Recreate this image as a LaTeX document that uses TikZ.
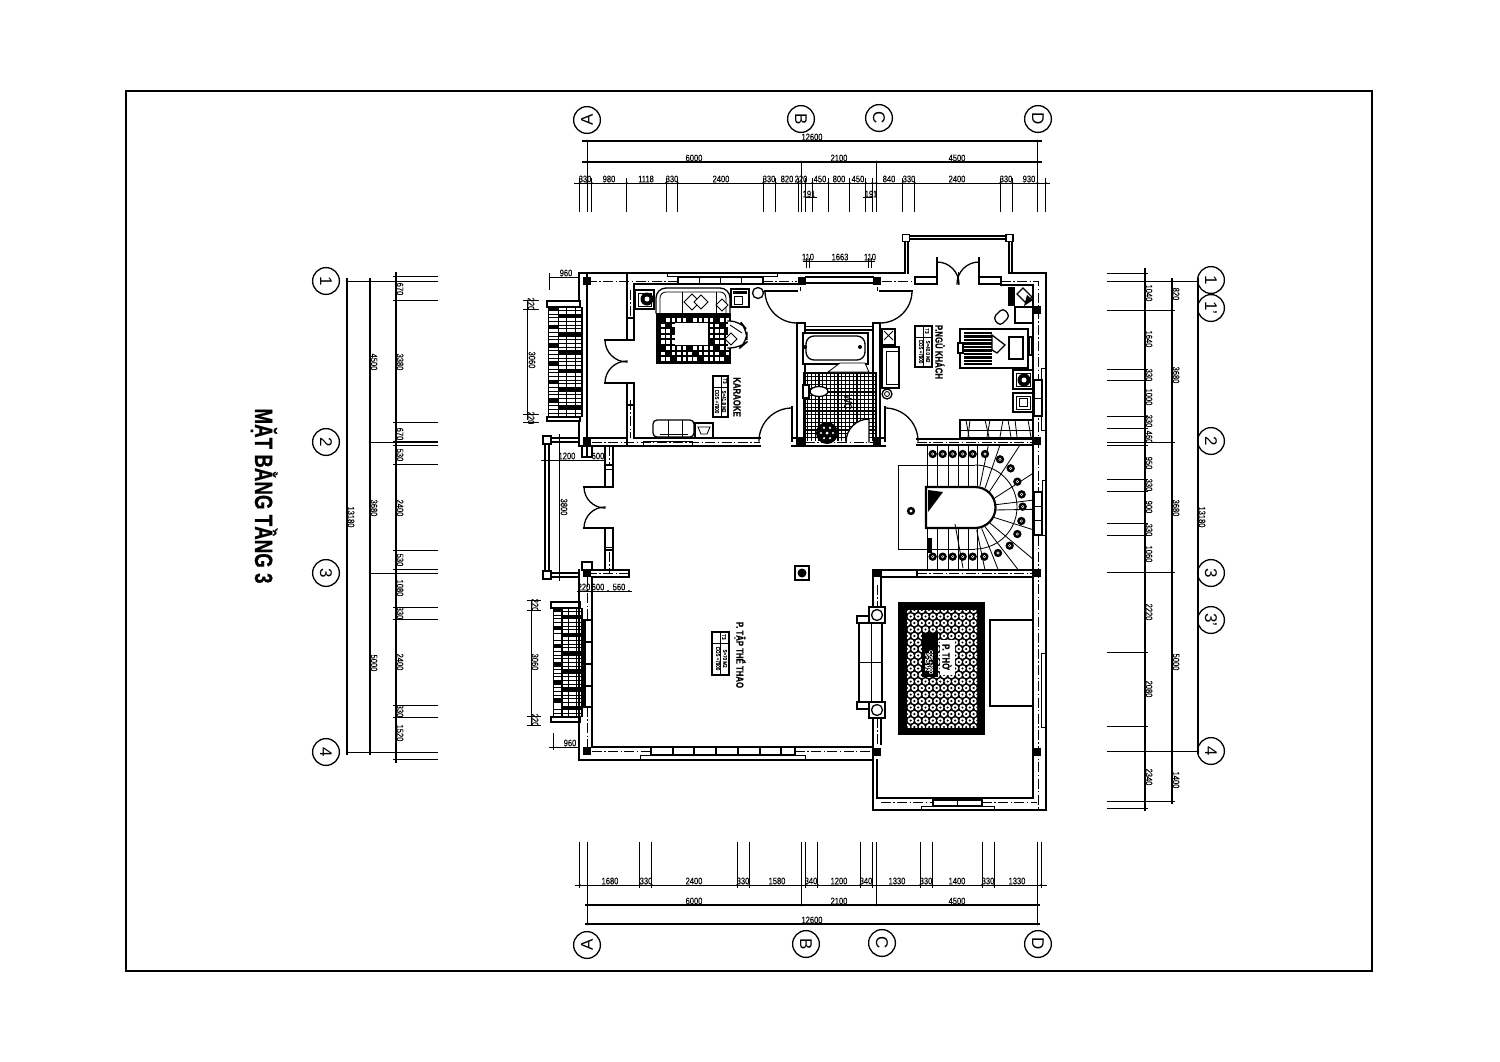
\documentclass[tikz,border=0pt]{standalone}
\usepackage{fontspec}
\setmainfont{Liberation Sans}
\newfontfamily\dimf[FakeStretch=0.8,FakeBold=0.25]{Liberation Sans}
\newfontfamily\titf[FakeStretch=0.75,FakeBold=0.5]{Liberation Sans}
\tikzset{
 wl/.style={line width=.65pt,line cap=rect},
 th/.style={line width=.42pt},
 cl/.style={line width=.42pt,dash pattern=on 5pt off 1.2pt on .7pt off 1.2pt},
 dl/.style={line width=.5pt},
 dk/.style={line width=.65pt},
 dm/.style={font=\dimf\fontsize{4.7}{5}\selectfont,inner sep=0pt},
 dmr/.style={dm,rotate=-90},
 rm/.style={font=\titf\bfseries\fontsize{5.2}{5.5}\selectfont,inner sep=0pt,rotate=-90},
 tg/.style={font=\dimf\fontsize{2.8}{3}\selectfont,inner sep=0pt,rotate=-90},
 bub/.style={draw,circle,line width=.65pt,minimum size=13.4pt,inner sep=0pt,rotate=-90,font=\fontsize{8.5}{8.5}\selectfont},
}
\newcommand{\bench}[4]{%
 \fill (#1,#2) rectangle (#3,#4);
 \foreach \c/\ca/\cb/\k in {0/.04/.28/3,1/.32/.50/2,2/.54/.76/4,3/.80/.94/1}{
  \foreach \i in {0,...,29}{
   \pgfmathtruncatemacro\m{mod(\i*\k+\c,5)}
   \ifnum\m=0\relax\else
    \fill[white] ({#1+(#3-#1)*\ca},{#2+(\i+.1)*(#4-#2)/30}) rectangle ({#1+(#3-#1)*\cb},{#2+(\i+.85)*(#4-#2)/30});
   \fi
  }
 }
}
\newcommand{\diam}[3]{\draw[th,fill=white] (#1-#3,#2) -- (#1,#2-#3) -- (#1+#3,#2) -- (#1,#2+#3) -- cycle;}
\newcommand{\tagbox}[7]{% x0 y0 x1 y1 t1 t2 t3
 \draw[wl] (#1,#2) rectangle (#3,#4);
 \draw[th] (#1,#2+11) -- (#3,#2+11) (#1+8,#2) -- (#1+8,#4);
 \node[tg] at (#1+12,#2+5) {#5};
 \node[tg] at (#3-11,{(#2+#4)/2+5}) {#6};
 \node[tg] at (#3-4,{(#2+#4)/2+5}) {#7};
}
\begin{document}
\begin{tikzpicture}[x=.5pt,y=-.5pt]
\useasboundingbox (0,0) rectangle (1500,1061);
\fill[white] (0,0) rectangle (1500,1061);
\draw[line width=.7pt] (126,91) rectangle (1372,971);

% ---- title
\node[rotate=-90,inner sep=0pt,font=\titf\bfseries\fontsize{12.5}{13}\selectfont] (title) at (264,496) {MẶT BẰNG TẦNG 3};

% ---- bubbles
\foreach \n/\x/\y/\t in {tb/801/119/B,tc/879/118/C,td/1038/119/D,bb/806/944/B,bc/882/943/C,bd/1038/944/D,
 l1/326/281/1,l2/326/442/2,l3/326/573/3,l4/326/752/4,
 r1/1211/280/1,r1p/1211/308/1',r2/1211/441/2,r3/1211/573/3,r3p/1211/620/3',r4/1211/751/4}
 \node[bub] (\n) at (\x,\y) {\t};
\node[bub,rotate=180] (ta) at (587,120) {A};
\node[bub,rotate=180] (ba) at (587,945) {A};

% ---- top dimensions
\draw[dk] (582,141) -- (1042,141);
\draw[dk] (582,162) -- (1042,162);
\draw[dl] (574,183) -- (1050,183);
\draw[dl] (805,197) -- (817,197) (863,197) -- (872,197);
\foreach \x in {587,1037.5} {\draw[dl] (\x,141) -- (\x,212); \fill (\x,141) circle (1.3);}
\foreach \x in {587,801,876.5,1037.5} \fill (\x,162) circle (1.3);
\foreach \x in {801,876.5} \draw[dl] (\x,162) -- (\x,212);
\foreach \x in {579.7,587,591.7,626.7,666,677.7,763.3,775.7,798,805.3,812.3,828.3,849.7,865.7,872.3,876.3,902.7,914.7,1000.3,1012.3,1037.3,1045.7}
 {\draw[dl] (\x,178) -- (\x,212); \fill (\x,183) circle (1.2);}
\foreach \x/\t in {812/12600} \node[dm] at (\x,137) {\t};
\foreach \x/\t in {694/6000,839/2100,957/4500} \node[dm] at (\x,158) {\t};
\foreach \x/\t in {585/330,609/980,646/1118,672/330,721/2400,769/330,787/820,801/220,820/450,839/800,858/450,889/840,909/330,957/2400,1006/330,1029/930}
 \node[dm] at (\x,179) {\t};
\node[dm] at (809,194) {191};
\node[dm] at (871,194) {191};

% ---- bottom dimensions
\draw[dl] (575,885) -- (1047,885);
\draw[dk] (585,905) -- (1040,905);
\draw[dk] (585,924) -- (1040,924);
\foreach \x in {587,1037.5} {\draw[dl] (\x,842) -- (\x,924); \fill (\x,924) circle (1.3);}
\foreach \x in {801.5,876.3} \draw[dl] (\x,842) -- (\x,905);
\foreach \x in {587,801.5,876.3,1037.5} \fill (\x,905) circle (1.3);
\foreach \x in {579.7,639.7,651.7,737.3,749.3,805.7,817.7,860.3,872.3,920.3,932.3,982,994,1041.3}
 {\draw[dl] (\x,842) -- (\x,888); \fill (\x,885) circle (1.2);}
\foreach \x/\t in {610/1680,646/330,694/2400,743/330,777/1580,811/340,839/1200,866/340,897/1330,926/330,957/1400,988/330,1017/1330}
 \node[dm] at (\x,881) {\t};
\foreach \x/\t in {694/6000,839/2100,957/4500} \node[dm] at (\x,901) {\t};
\node[dm] at (812,920) {12600};

% ---- left dimensions
\draw[dk] (347,278) -- (347,755);
\draw[dk] (370,278) -- (370,755);
\draw[dk] (396,272) -- (396,763);
\foreach \y in {281,752} {\draw[dl] (347,\y) -- (438,\y); \fill (347,\y) circle (1.3); \fill (370,\y) circle (1.3);}
\foreach \y in {442,573} {\draw[dl] (370,\y) -- (438,\y); \fill (370,\y) circle (1.3);}
\foreach \y in {276.7,281.3,300.7,422,441.7,445.3,464.3,550,569.3,573.3,607.7,619.7,705.3,717.3,752,759.7}
 {\draw[dl] (393,\y) -- (438,\y); \fill (396,\y) circle (1.2);}
\foreach \y/\t in {289/670,362/3380,434/670,455/530,508/2400,560/530,588/1080,613/330,662/2400,711/330,733/1520}
 \node[dmr] at (400,\y) {\t};
\foreach \y/\t in {362/4500,508/3680,663/5000} \node[dmr] at (374,\y) {\t};
\node[dmr] at (351,517) {13180};

% ---- right dimensions
\draw[dk] (1145,268) -- (1145,811);
\draw[dk] (1172,278) -- (1172,804);
\draw[dk] (1198,278) -- (1198,754);
\foreach \y in {281,751} {\draw[dl] (1107,\y) -- (1198,\y); \fill (1198,\y) circle (1.3); \fill (1172,\y) circle (1.3);}
\foreach \y in {310,442,572,801} {\draw[dl] (1107,\y) -- (1175,\y); \fill (1172,\y) circle (1.3);}
\foreach \y in {273,281,310,369,380,416,428,442,445,479,491,523,535,572,652,726,751,801,808}
 {\draw[dl] (1107,\y) -- (1148,\y); \fill (1145,\y) circle (1.2);}
\foreach \y/\t in {293/1040,339/1640,375/330,397/1000,421/330,437/460,463/950,485/330,507/900,530/330,554/1060,612/2220,689/2080,777/2340}
 \node[dmr] at (1149,\y) {\t};
\foreach \y/\t in {294/820,375/3680,508/3680,662/5000,780/1400} \node[dmr] at (1176,\y) {\t};
\node[dmr] at (1202,517) {13180};

% ---- small dims around plan
\draw[dl] (549,290) -- (549,273) (549,277) -- (579,277);
\node[dm] at (566,273) {960};
\draw[dl] (527,301) -- (527,420);
\foreach \y in {300,309,414,422} {\draw[dl] (523,\y) -- (539,\y);}
\node[dmr] at (532,360) {3060};
\node[dmr] at (531,304) {220};
\node[dmr] at (531,418) {220};
\draw[dl] (531,600) -- (531,725);
\foreach \y in {600,610,716,725} {\draw[dl] (527,\y) -- (541,\y);}
\node[dmr] at (535,662) {3060};
\node[dmr] at (535,605) {220};
\node[dmr] at (535,720) {220};
\draw[dl] (553,733) -- (553,750) (549,747) -- (580,747);
\node[dm] at (570,743) {960};
\draw[dl] (541,460) -- (606,460);
\draw[dl] (559,434) -- (559,581);
\node[dm] at (567,456) {1200};
\node[dm] at (598,456) {600};
\node[dmr] at (564,507) {3800};
\draw[dl] (577,591) -- (632,591);
\foreach \x in {579,587,608,629} \fill (\x,591) circle (1.1);
\foreach \x/\t in {584/220,598/600,619/560} \node[dm] at (\x,587) {\t};
\draw[dl] (803,261) -- (875,261);
\foreach \x in {806,809,868,871} \draw[dl] (\x,258) -- (\x,268);
\foreach \x/\t in {808/110,840/1663,870/110} \node[dm] at (\x,257) {\t};

% ---- benches (balcony balustrades)
\bench{548}{307}{583}{417}
\draw[wl,fill=white] (547,301) rectangle (580,307);
\draw[wl,fill=white] (547,417) rectangle (580,421);
\bench{553}{608}{583}{717}
\draw[wl,fill=white] (551,602) rectangle (580,608);
\draw[wl,fill=white] (551,717) rectangle (580,722);

% ---- KARAOKE room walls
\draw[wl] (579,273) -- (873,273) (579,273) -- (579,301) (587,273) -- (587,446) (579,421) -- (579,446) (579,446) -- (760,446);
\draw[wl] (587,438) -- (627,438) (634,438) -- (760,438);
\draw[wl] (627,273) -- (627,340) (634,284) -- (634,340) (627,383) -- (627,446) (634,383) -- (634,438);
\draw[wl] (634,284) -- (678,284) (763,284) -- (797,284);
\draw[wl] (678,277) rectangle (763,284);
\foreach \x in {699,720,741} \draw[th] (\x,277) -- (\x,284);
\draw[th] (667,273) rectangle (777,276);
\draw[cl] (587,281) -- (678,281) (763,281) -- (797,281) (592,442) -- (760,442) (630.5,290) -- (630.5,318) (630.5,400) -- (630.5,438);
\draw[wl] (627,318) rectangle (634,340) (627,383) rectangle (634,405);
\draw[th] (643,441) rectangle (692,446);
% karaoke door
\draw[wl] (605,340) -- (627,340) (605,383) -- (627,383);
\draw[wl] (605,340) arc[start angle=180,end angle=90,radius=22];
\draw[wl] (605,383) arc[start angle=180,end angle=270,radius=22];
% karaoke furniture
\draw[wl] (635,290) rectangle (654,309);
\draw[th] (638,293) rectangle (651,306);
\fill (647,299) circle (6.5); \fill[white] (647,299) circle (2.5);
\draw[wl,rounded corners=5pt] (656,313) -- (656,288) -- (730,288) -- (730,313);
\draw[th,rounded corners=3pt] (660,313) -- (660,292) -- (726,292) -- (726,313);
\draw[th] (682,292) -- (682,313) (716,292) -- (716,313);
\diam{692}{302}{8}\diam{701}{302}{7}\diam{722}{305}{6}
\draw[wl] (731,289) rectangle (749,307);
\fill (733,291) rectangle (747,294); \draw[th] (734,296) rectangle (742,304);
\draw[wl] (758,293) circle (5.5);
\draw[th] (763,291) -- (770,291);
% rug
\fill (656,313) rectangle (731,364);
\foreach \i in {0,...,12}{\foreach \j in {0,...,7}{
 \pgfmathtruncatemacro\m{mod(\i*2+\j*3,5)}
 \ifnum\m=0\relax\else\fill[white] ({661+\i*5.4},{318+\j*5.6}) rectangle ++(3.6,3.6);\fi}}
\fill[white] (675,323) rectangle (708,345);
\draw[wl,fill=white,rounded corners=5pt] (728,321) -- (740,321) -- (747,330) -- (747,342) -- (740,348) -- (728,348);
\diam{731}{339}{6}\draw[th] (730,325) -- (742,333);
\draw[wl,rounded corners=2pt] (653,437) -- (653,420) -- (694,420) -- (694,437) -- cycle;
\draw[th] (668,420) -- (668,437) (682,420) -- (682,437) (660,434) -- (688,434);
\draw[wl] (695,423) rectangle (713,438);
\draw[th] (698,427) -- (710,427) -- (707,434) -- (701,434) -- cycle;
\tagbox{713}{376}{728}{417}{T3}{COS +7900}{S=41.8 M2}
\node[rm] at (737,397) {KARAOKE};

% ---- opening between B-C and large arcs
\draw[wl] (806,277) -- (873,277) (806,283) -- (873,283);
\draw[wl] (765,291) -- (797,291) (880,291) -- (912,291);
\draw[th] (800,287) -- (800,291) (877,287) -- (877,291);
\draw[wl] (765,291) arc[start angle=180,end angle=90,radius=32];
\draw[wl] (912,291) arc[start angle=0,end angle=90,radius=32];
\draw[wl] (873,273) -- (905,273);
\draw[cl] (882,281) -- (915,281);

% ---- guest room balcony
\draw[wl] (905,238) -- (905,273) (908,238) -- (908,273) (1009,238) -- (1009,273) (1012,238) -- (1012,273);
\draw[wl] (906,236) -- (1009,236) (906,239) -- (1009,239);
\draw[wl,fill=white] (902.5,234.5) rectangle (909.5,241.5);
\draw[wl,fill=white] (1006,234.5) rectangle (1013,241.5);
\draw[wl] (915,277) rectangle (937,284);
\draw[wl] (979,277) rectangle (1001,284);
\draw[wl] (937,258) -- (937,284) (979,258) -- (979,284);
\draw[wl] (937,262) arc[start angle=-90,end angle=0,radius=22];
\draw[wl] (979,262) arc[start angle=-90,end angle=-180,radius=22];
\draw[th] (958,272) -- (958,285);
\draw[wl] (1009,273) -- (1046,273) -- (1046,810);
\draw[wl] (1001,285) -- (1033,285) -- (1033,798);
\draw[cl] (1001,281) -- (1038,281) -- (1038,810);

% ---- bathroom
\foreach \x in {803.8,807.6,...,877} \draw[line width=.55pt] (\x,373) -- (\x,441);
\foreach \y in {373,376.8,...,441} \draw[line width=.55pt] (803,\y) -- (877,\y);
\draw[wl] (797,323) -- (797,446) (805,323) -- (805,438) (873,323) -- (873,438) (880,323) -- (880,446);
\draw[wl] (797,323) -- (805,323) (873,323) -- (880,323);
\draw[wl] (805,330) -- (873,330);
\draw[th] (805,326) -- (873,326);
\draw[wl,fill=white] (803,333) rectangle (868,364);
\draw[wl,rounded corners=4pt] (806,336) rectangle (865,360);
\fill (805,347) circle (2) (860,347) circle (2);
\draw[th,fill=white] (828,372) -- (840,363) -- (865,363) -- (869,372) -- cycle;
\draw[wl,fill=white] (803,385) rectangle (809,398);
\draw[wl,fill=white] (819,391.5) ellipse (9 and 5);
\fill (827,433) circle (11);
\foreach \a in {0,60,...,300} \fill[white] ({827+6*cos(\a)},{433+6*sin(\a)}) circle (1.2);
\fill[white] (827,433) circle (1.5);
\fill[white] (869,442) -- (846,442) arc[start angle=180,end angle=270,radius=23] -- cycle;
\draw[wl] (846,442) arc[start angle=180,end angle=270,radius=23] -- (869,442);
\node[rotate=-90,inner sep=0pt,font=\dimf\fontsize{5.5}{6}\selectfont] at (848,402) {WC};
\draw[wl] (792,407) -- (792,441) (885,407) -- (885,441);
\draw[wl] (792,408) arc[start angle=-90,end angle=-180,radius=33];
\draw[wl] (885,408) arc[start angle=-90,end angle=0,radius=33];
\draw[wl] (792,446) -- (885,446);
\draw[wl] (792,438) -- (797,438) (880,438) -- (885,438);
\draw[cl] (805,442) -- (873,442);
% sofa next to bathroom
\draw[wl] (882,329) rectangle (895,345);
\draw[th] (884,331) -- (893,340) (893,331) -- (884,340);
\draw[wl] (882,347) rectangle (899,388);
\draw[th] (886,351) rectangle (899,384);
\draw[wl] (887,394) circle (5);
\draw[th] (887,394) circle (2.5);

% ---- guest room
\tagbox{915}{326}{932}{367}{T3}{COS +7900}{S=40.0 M2}
\node[rm] at (940,352) {P.NGỦ KHÁCH};
\fill (1008,287) rectangle (1015,306);
\draw[wl] (1015,307) rectangle (1033,323);
\draw[wl,fill=white] (1017,294) -- (1023,288) -- (1032,297) -- (1026,303) -- cycle;
\fill (1027,295) -- (1033,300) -- (1024,306) -- cycle;
\draw[wl,fill=white,rounded corners=2pt] (993,318) -- (1003,308) -- (1010,316) -- (1000,326) -- cycle;
\draw[wl] (960,329) rectangle (1028,368);
\fill (964,332) rectangle (992,365);
\foreach \y in {334.5,338,...,364} \draw[white,line width=.4pt] (964,\y) -- (992,\y);
\draw[wl,fill=white] (992,335) -- (1005,345) -- (997,353) -- (992,350) -- cycle;
\draw[line width=1pt] (1009,337) rectangle (1023,359);
\draw[wl,fill=white] (958,343) rectangle (963,353);
\draw[wl] (1029,337) rectangle (1032,355);
\draw[wl] (1013,370) rectangle (1033,389);
\draw[th] (1016,373) rectangle (1030,386);
\fill (1024,380) circle (6.5); \fill[white] (1024,380) circle (2.5);
\draw[wl] (1013,393) rectangle (1033,412);
\draw[th] (1016,396) rectangle (1030,409);
\draw[th,fill=white] (1019,398) rectangle (1027,406);
\draw[th] (1041,368) -- (1041,430) -- (1045,430) -- (1045,368) -- cycle;
\draw[wl,fill=white] (1034,380) rectangle (1042,416);
\draw[th] (1034,398) -- (1042,398);
\draw[wl] (960,420) rectangle (1033,438);
\draw[th] (960,430) -- (1033,430);
\foreach \x/\d in {966/3,970/-2,985/4,990/-3,1003/-3,1008/3,1015/2,1028/3}
 \draw[th] (\x,420) -- ({\x+\d},437);

% ---- stairs
\draw[wl] (917,439) -- (1033,439) (917,445) -- (1033,445);
\draw[cl] (917,442) -- (1037,442);
\draw[wl] (881,570) rectangle (917,577);
\draw[wl] (917,570) -- (1033,570) (917,577) -- (1033,577);
\draw[cl] (917,573.5) -- (1033,573.5);
\draw[th] (898,465) rectangle (927,549);
\draw[th] (927,465) -- (975,465) (927,549) -- (975,549);
\draw[th] (975,465) arc[start angle=-90,end angle=90,radius=42];
\foreach \x in {927,937,948,958,968,977} \draw[th] (\x,445) -- (\x,487) (\x,528) -- (\x,570);
\foreach \ax/\ay/\bx/\by in {360/108/385/-15,375/115/420/-15,385/130/480/-15,395/150/522/68,400/165/522/150,400/180/522/178,395/200/522/240,385/215/522/330,375/230/475/360,365/235/415/360,350/240/375/360}
 \draw[th] ({860+\ax/3},{450+\ay/3}) -- ({860+\bx/3},{450+\by/3});
\draw[line width=1.1pt,fill=white] (926,487) -- (975,487) arc[start angle=-90,end angle=90,radius=20.5] -- (926,528) -- cycle;
\fill (928,490) -- (943,492) -- (928,512) -- cycle;
\fill (928,538) -- (932,538) -- (932,553) -- (928,553) -- cycle;
\draw[th] (955,524) -- (963,568);
\foreach \u/\v in {218/12,248/12,278/12,308/12,338/12,375/12,420/28,452/55,472/95,485/133,488/170,484/213,472/252,449/287,414/309,373/320,338/320,308/320,278/320,248/320,218/320}
 {\fill ({860+\u/3},{450+\v/3}) circle (4.2); \fill[white] ({860+\u/3},{450+\v/3}) circle (1.6); \fill ({860+\u/3},{450+\v/3}) circle (.7);}
\fill (911,511) circle (4.2); \fill[white] (911,511) circle (1.6);
\draw[wl,fill=white] (1034,492) rectangle (1042,535);
\draw[th] (1034,506) -- (1042,506) (1034,520) -- (1042,520);
\draw[th] (1042,480) rectangle (1045,535);

% ---- large room (sports room)
\draw[wl] (605,446) -- (605,487) (613,446) -- (613,487) (605,528) -- (605,570) (613,528) -- (613,570);
\draw[wl] (605,465) rectangle (613,487) (605,528) rectangle (613,550);
\draw[th] (605,469) -- (613,469) (605,547) -- (613,547);
\draw[cl] (609,446) -- (609,465) (609,552) -- (609,574);
\draw[wl] (584,487) -- (605,487) (584,528) -- (605,528);
\draw[wl] (584,487) arc[start angle=180,end angle=90,radius=21];
\draw[wl] (584,528) arc[start angle=180,end angle=270,radius=21];
% side balcony
\draw[wl] (545,443) -- (545,575) (549,443) -- (549,575);
\draw[wl] (551,438) -- (579,438) (551,442) -- (579,442) (551,573) -- (579,573) (551,577) -- (579,577);
\draw[wl,fill=white] (543,436) rectangle (551,444);
\draw[wl,fill=white] (543,571) rectangle (551,579);
\draw[wl,fill=white] (582,562) rectangle (592,570);
\draw[wl] (582,446) -- (582,457) (592,446) -- (592,457) (582,457) -- (592,457) (587,446) -- (587,457);
\draw[wl] (587,570) -- (629,570) -- (629,577) -- (592,577);
\draw[cl] (587,573.5) -- (629,573.5);
\draw[wl] (579,570) -- (579,760) (592,577) -- (592,747);
\draw[cl] (587,577) -- (587,620) (587,707) -- (587,747);
\draw[wl] (583,620) rectangle (592,707);
\fill (584,621) rectangle (586,706);
\foreach \y in {642,664,686} \draw[wl] (583,\y) -- (592,\y);
\draw[wl] (579,760) -- (873,760);
\draw[wl] (592,747) -- (873,747);
\draw[wl] (651,747) rectangle (795,755);
\foreach \x in {673,694,716,738,760,781} \draw[wl] (\x,747) -- (\x,755);
\draw[th] (640,755) rectangle (805,760);
\draw[cl] (592,751.5) -- (651,751.5) (795,751.5) -- (873,751.5);
\node[rm] at (740,655) {P. TẬP THỂ THAO};
\tagbox{712}{632}{729}{675}{T3}{COS +7900}{S=70 M2}
\fill[white] (795,563) rectangle (809,581);
\draw[line width=.8pt] (795,566) rectangle (809,580);
\fill (802,573) circle (4.5);

% ---- bay room (worship room)
\draw[wl] (873,570) -- (873,607) (881,577) -- (881,607);
\draw[cl] (877,585) -- (877,607);
\draw[wl] (873,718) -- (873,810) (881,718) -- (881,744) (877,760) -- (877,798);
\draw[cl] (877,718) -- (877,744);
\draw[wl] (873,810) -- (1046,810);
\draw[wl] (877,798) -- (1033,798);
\draw[cl] (881,802) -- (933,802) (982,802) -- (1037,802);
\draw[wl] (933,800) rectangle (982,806);
\draw[th] (957.5,800) -- (957.5,806);
\draw[th] (921,806) rectangle (994,810);
\draw[th] (1041,653) rectangle (1045,727);
\draw[wl] (990,620) rectangle (1033,706);
\draw[wl] (859,623) rectangle (882,702);
\draw[th] (871,623) -- (871,702) (859,662) -- (882,662);
\draw[wl,fill=white] (857,616) rectangle (869,623);
\draw[wl,fill=white] (857,702) rectangle (869,709);
\foreach \y in {615,710} {\draw[wl,fill=white] (869,\y-8) rectangle (885,\y+8); \draw[wl] (877,\y) circle (5.5);}
% carpet
\fill (898,602) rectangle (985,735);
\fill (907,610) rectangle (977,727);
\begin{scope}
\clip (907,610) rectangle (977,727);
\foreach \i in {0,...,10}{\foreach \j in {0,...,18}{
 \pgfmathsetmacro\xx{907+\i*7.4+mod(\j,2)*3.7}
 \pgfmathsetmacro\yy{610+\j*6.5}
 \fill[white] (\xx,\yy) circle (3.1);
 \fill (\xx,\yy) circle (1.2);
}}
\end{scope}
\fill (922,633) rectangle (938,677);
\node[tg,white] at (931,662) {COS +7900};
\node[tg,white] at (927,662) {S=25 M2};
\fill[white] (940,640) rectangle (955,675);
\node[rm] at (947,657) {P. THỜ};

% ---- columns
\foreach \x/\y in {587/281,587/441,587/573,587/751,802/281,877/281,802/441,877/441,1037/441,1037/310,877/573,1037/573,877/752,1037/752}
 \fill (\x-4,\y-4) rectangle (\x+4,\y+4);
\end{tikzpicture}
\end{document}
